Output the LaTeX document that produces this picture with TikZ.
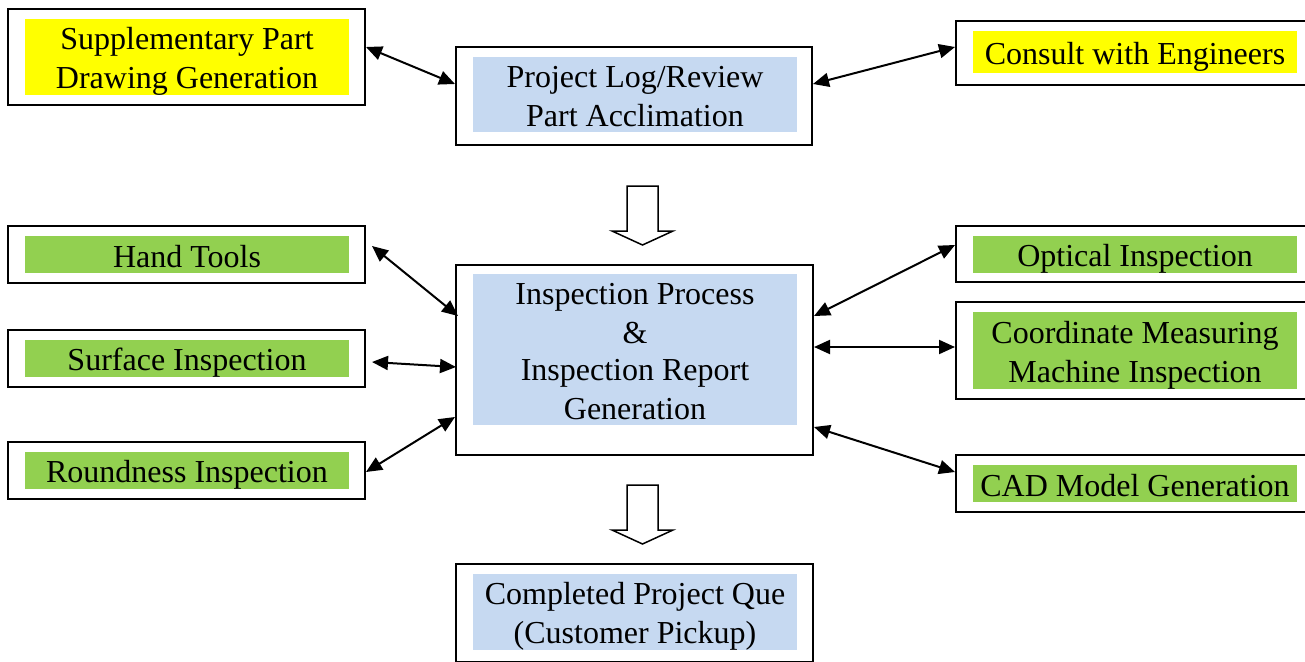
\documentclass[tikz,border=0pt]{standalone}
\usepackage{fontspec}
\setmainfont{Liberation Serif}
\usetikzlibrary{arrows.meta,calc}
\definecolor{hiyellow}{HTML}{FFFF00}
\definecolor{leafgreen}{HTML}{92D050}
\definecolor{paleblue}{HTML}{C6D9F1}
% uniform line strut: every text line is 37pt tall
\newcommand\ls{\vrule height 31pt depth 6pt width 0pt}

\begin{document}
\begin{tikzpicture}[x=1pt,y=-1pt,
  outerbox/.style={draw=black, line width=2pt, fill=white, inner sep=0pt},
  txtbox/.style={inner sep=0pt, align=center, minimum width=324pt,
    font=\fontsize{32pt}{37pt}\selectfont},
  dlink/.style={line width=2pt,
    {Triangle[length=16pt,width=14pt]}-{Triangle[length=16pt,width=14pt]}},
  bigarrow/.style={draw=black, line width=1.5pt, fill=white, line join=miter}
]
\clip (0,0) rectangle (1305,661);

% ---- outer frames ----
\node[outerbox, minimum width=357pt, minimum height=96pt] (supp) at (186.5,57) {};
\node[outerbox, minimum width=356pt, minimum height=98pt] (proj) at (634,96) {};
\node[outerbox, minimum width=357pt, minimum height=64pt] (cons) at (1134.5,53) {};
\node[outerbox, minimum width=357pt, minimum height=57pt] (hand) at (186.5,254.5) {};
\node[outerbox, minimum width=357pt, minimum height=57pt] (surf) at (186.5,358.5) {};
\node[outerbox, minimum width=357pt, minimum height=57pt] (rnd) at (186.5,470.5) {};
\node[outerbox, minimum width=357pt, minimum height=190pt] (insp) at (634.5,360) {};
\node[outerbox, minimum width=357pt, minimum height=56pt] (opt) at (1134.5,254) {};
\node[outerbox, minimum width=357pt, minimum height=97pt] (cmm) at (1134.5,350.5) {};
\node[outerbox, minimum width=357pt, minimum height=57pt] (cad) at (1134.5,483.5) {};
\node[outerbox, minimum width=357pt, minimum height=98pt] (done) at (634.5,613) {};

% ---- coloured labels ----
\node[txtbox, fill=hiyellow, minimum height=74pt] (suppT) at (187,57)
  {\ls Supplementary Part\\\ls Drawing Generation};
\node[txtbox, fill=paleblue, minimum height=73pt] (projT) at (635,94.5)
  {\ls Project Log/Review\\\ls Part Acclimation};
\node[txtbox, fill=hiyellow, minimum height=42pt] (consT) at (1135,52)
  {\ls Consult with Engineers};
\node[txtbox, fill=leafgreen, minimum height=35pt] (handT) at (187,254.5)
  {\ls Hand Tools};
\node[txtbox, fill=leafgreen, minimum height=35pt] (surfT) at (187,358.5)
  {\ls Surface Inspection};
\node[txtbox, fill=leafgreen, minimum height=35pt] (rndT) at (187,470.5)
  {\ls Roundness Inspection};
\node[txtbox, fill=paleblue, minimum height=147pt] (inspT) at (635,349.5)
  {\ls Inspection Process\\\ls \&\\\ls Inspection Report\\\ls Generation};
\node[txtbox, fill=leafgreen, minimum height=35pt] (optT) at (1135,254.5)
  {\ls Optical Inspection};
\node[txtbox, fill=leafgreen, minimum height=75pt] (cmmT) at (1135,350.5)
  {\ls Coordinate Measuring\\\ls Machine Inspection};
\node[txtbox, fill=leafgreen, minimum height=35pt] (cadT) at (1135,483.5)
  {\ls CAD Model Generation};
\node[txtbox, fill=paleblue, minimum height=74pt] (doneT) at (635,612)
  {\ls Completed Project Que\\\ls (Customer Pickup)};

% ---- two-way links ----
\draw[dlink] (supp.east |- 0,47) -- (proj.west |- 0,84);
\draw[dlink] (proj.east |- 0,84) -- (cons.west |- 0,47);
\draw[dlink] ($(hand.east |- 0,246)+(6,0)$) -- ($(insp.west |- 0,316)+(3,0)$);
\draw[dlink] ($(surf.east |- 0,362)+(6,0)$) -- ($(insp.west |- 0,367)+(1,0)$);
\draw[dlink] (rnd.east |- 0,472) -- (insp.west |- 0,417);
\draw[dlink] (insp.east |- 0,316) -- (opt.west |- 0,245);
\draw[dlink] (insp.east |- 0,347) -- (cmm.west |- 0,347);
\draw[dlink] (insp.east |- 0,427) -- (cad.west |- 0,472);

% ---- hollow flow arrows ----
\draw[bigarrow] (627,186) -- (658,186) -- (658,231) -- (673,231) -- (642.5,245)
  -- (612,231) -- (627,231) -- cycle;
\draw[bigarrow] (627,485) -- (658,485) -- (658,530) -- (673,530) -- (642.5,544)
  -- (612,530) -- (627,530) -- cycle;
\end{tikzpicture}
\end{document}
